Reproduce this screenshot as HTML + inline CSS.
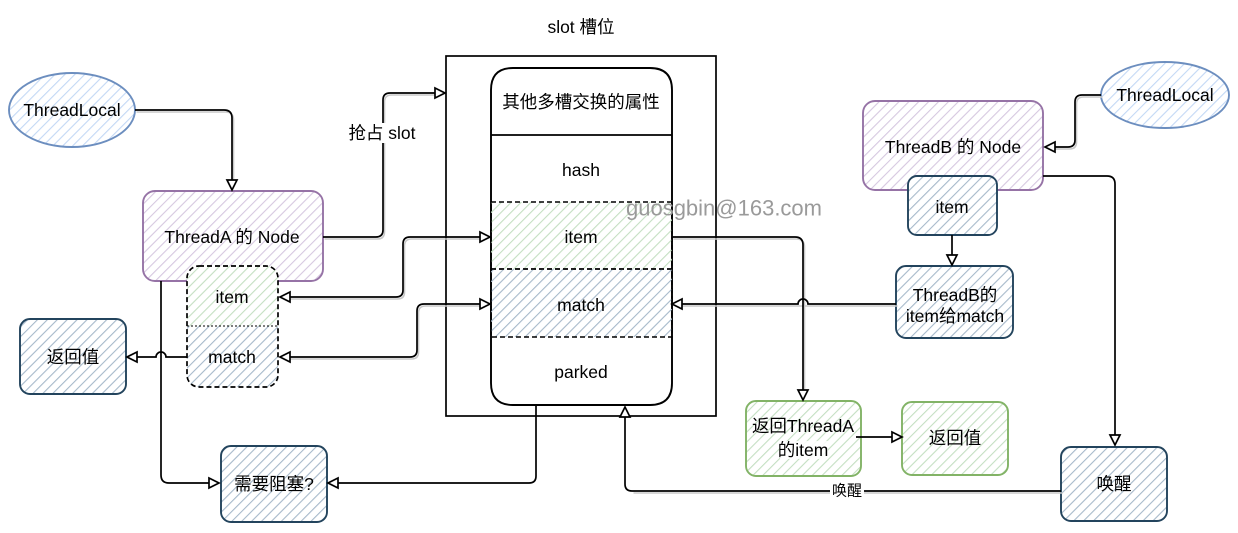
<!DOCTYPE html>
<html>
<head>
<meta charset="utf-8">
<style>
  html,body{margin:0;padding:0;background:#fff;}
  svg{display:block;}
  text{font-family:"Liberation Sans","Noto Sans CJK SC",sans-serif;font-size:17.5px;fill:#000;}
</style>
</head>
<body>
<svg width="1238" height="533" viewBox="0 0 1238 533" xmlns="http://www.w3.org/2000/svg">
  <defs>
    <pattern id="hb" width="7" height="7" patternUnits="userSpaceOnUse" patternTransform="rotate(45)">
      <line x1="0" y1="0" x2="0" y2="7" stroke="#a6b9ca" stroke-width="2.2"/>
    </pattern>
    <pattern id="hg" width="7" height="7" patternUnits="userSpaceOnUse" patternTransform="rotate(45)">
      <line x1="0" y1="0" x2="0" y2="7" stroke="#c4dfc2" stroke-width="2.2"/>
    </pattern>
    <pattern id="hp" width="7" height="7" patternUnits="userSpaceOnUse" patternTransform="rotate(45)">
      <line x1="0" y1="0" x2="0" y2="7" stroke="#d6c8e0" stroke-width="2.2"/>
    </pattern>
    <pattern id="hl" width="7" height="7" patternUnits="userSpaceOnUse" patternTransform="rotate(45)">
      <line x1="0" y1="0" x2="0" y2="7" stroke="#c3d8f5" stroke-width="2.2"/>
    </pattern>
  </defs>

  <!-- title -->
  <text x="581" y="27" text-anchor="middle" dominant-baseline="central">slot 槽位</text>

  <!-- slot outer rect -->
  <rect x="446" y="56" width="270" height="360" fill="none" stroke="#000" stroke-width="1.7"/>

  <!-- slot inner box -->
  <path d="M491,90 Q491,68 513,68 H650 Q672,68 672,90 V383 Q672,405 650,405 H513 Q491,405 491,383 Z" fill="#fff" stroke="#000" stroke-width="1.9"/>
  <line x1="491" y1="135" x2="672" y2="135" stroke="#000" stroke-width="1.7"/>
  <rect x="491" y="202" width="181" height="67" fill="url(#hg)" stroke="#000" stroke-width="1.5" stroke-dasharray="5,3"/>
  <rect x="491" y="269" width="181" height="68" fill="url(#hb)" stroke="#000" stroke-width="1.5" stroke-dasharray="5,3"/>
  <text x="581" y="102" text-anchor="middle" dominant-baseline="central">其他多槽交换的属性</text>
  <text x="581" y="170" text-anchor="middle" dominant-baseline="central">hash</text>
  <text x="581" y="237" text-anchor="middle" dominant-baseline="central">item</text>
  <text x="581" y="305" text-anchor="middle" dominant-baseline="central">match</text>
  <text x="581" y="372" text-anchor="middle" dominant-baseline="central">parked</text>

  <!-- watermark -->
  <text x="724" y="208" text-anchor="middle" dominant-baseline="central" style="font-size:22px;fill:#9a9a9a;">guosgbin@163.com</text>

  <!-- left ThreadLocal -->
  <ellipse cx="72" cy="110" rx="63" ry="37" fill="url(#hl)" stroke="#6c8ebf" stroke-width="1.9"/>
  <text x="72" y="110" text-anchor="middle" dominant-baseline="central">ThreadLocal</text>

  <!-- ThreadA Node -->
  <rect x="143" y="191" width="180" height="90" rx="12" fill="url(#hp)" stroke="#9673a6" stroke-width="1.9"/>
  <text x="232" y="237" text-anchor="middle" dominant-baseline="central">ThreadA 的 Node</text>

  <!-- ThreadA item/match -->
  <path d="M187,326 V278 Q187,266 199,266 H266 Q278,266 278,278 V326 Z" fill="#fff"/>
  <path d="M187,326 V278 Q187,266 199,266 H266 Q278,266 278,278 V326 Z" fill="url(#hg)"/>
  <path d="M187,326 V375 Q187,387 199,387 H266 Q278,387 278,375 V326 Z" fill="#fff"/>
  <path d="M187,326 V375 Q187,387 199,387 H266 Q278,387 278,375 V326 Z" fill="url(#hb)"/>
  <rect x="187" y="266" width="91" height="121" rx="12" fill="none" stroke="#000" stroke-width="1.7" stroke-dasharray="5,3"/>
  <line x1="187" y1="326" x2="278" y2="326" stroke="#000" stroke-width="1" stroke-dasharray="2,2"/>
  <text x="232" y="297" text-anchor="middle" dominant-baseline="central">item</text>
  <text x="232" y="357" text-anchor="middle" dominant-baseline="central">match</text>

  <!-- left 返回值 -->
  <rect x="20" y="319" width="106" height="75" rx="10" fill="url(#hb)" stroke="#23445d" stroke-width="1.9"/>
  <text x="73" y="357" text-anchor="middle" dominant-baseline="central">返回值</text>

  <!-- 需要阻塞? -->
  <rect x="221" y="446" width="106" height="76" rx="10" fill="url(#hb)" stroke="#23445d" stroke-width="1.9"/>
  <text x="274" y="484" text-anchor="middle" dominant-baseline="central">需要阻塞?</text>

  <!-- ThreadB Node -->
  <rect x="863" y="101" width="180" height="89" rx="12" fill="url(#hp)" stroke="#9673a6" stroke-width="1.9"/>
  <text x="953" y="147" text-anchor="middle" dominant-baseline="central">ThreadB 的 Node</text>
  <rect x="908" y="176" width="89" height="59" rx="9" fill="#fff"/>
  <rect x="908" y="176" width="89" height="59" rx="9" fill="url(#hb)" stroke="#23445d" stroke-width="1.9"/>
  <text x="952" y="207" text-anchor="middle" dominant-baseline="central">item</text>

  <!-- ThreadB的 item给match -->
  <rect x="896" y="266" width="117" height="72" rx="10" fill="url(#hb)" stroke="#23445d" stroke-width="1.9"/>
  <text x="955" y="295" text-anchor="middle" dominant-baseline="central">ThreadB的</text>
  <text x="955" y="316" text-anchor="middle" dominant-baseline="central">item给match</text>

  <!-- right ThreadLocal -->
  <ellipse cx="1165" cy="95" rx="64" ry="33" fill="url(#hl)" stroke="#6c8ebf" stroke-width="1.9"/>
  <text x="1165" y="95" text-anchor="middle" dominant-baseline="central">ThreadLocal</text>

  <!-- green boxes -->
  <rect x="746" y="401" width="115" height="75" rx="10" fill="url(#hg)" stroke="#82b366" stroke-width="1.9"/>
  <rect x="902" y="402" width="106" height="73" rx="10" fill="url(#hg)" stroke="#82b366" stroke-width="1.9"/>
  <text x="955" y="438" text-anchor="middle" dominant-baseline="central">返回值</text>

  <!-- 唤醒 box -->
  <rect x="1061" y="447" width="106" height="74" rx="10" fill="url(#hb)" stroke="#23445d" stroke-width="1.9"/>
  <text x="1114" y="484" text-anchor="middle" dominant-baseline="central">唤醒</text>

  <!-- connector shadows -->
  <g fill="none" stroke="#c8c8c8" stroke-width="1.6" transform="translate(1.5,2)">
    <path d="M135,110 H224 Q232,110 232,118 V182"/>
    <path d="M323,237 H376 Q383,237 383,230 V100 Q383,93 390,93 H437"/>
    <path d="M288,297 H396 Q403,297 403,290 V244 Q403,237 410,237 H482"/>
    <path d="M288,357 H410 Q417,357 417,350 V311 Q417,304 424,304 H482"/>
    <path d="M1061,491 H632"/>
    <path d="M672,237 H795 Q803,237 803,245 V392"/>
    <path d="M896,304 H680"/>
    <path d="M1101,95 H1082 Q1075,95 1075,102 V140 Q1075,147 1068,147 H1053"/>
  </g>

  <!-- connectors -->
  <g fill="none" stroke="#000" stroke-width="1.7">
    <path d="M135,110 H224 Q232,110 232,118 V182"/>
    <path d="M323,237 H376 Q383,237 383,230 V100 Q383,93 390,93 H437"/>
    <path d="M288,297 H396 Q403,297 403,290 V244 Q403,237 410,237 H482"/>
    <path d="M288,357 H410 Q417,357 417,350 V311 Q417,304 424,304 H482"/>
    <path d="M187,357 H166 A5,5 0 0 0 156,357 H135"/>
    <path d="M161,281 V475 Q161,483 169,483 H211"/>
    <path d="M536,405 V476 Q536,483 529,483 H336"/>
    <path d="M1061,491 H632 Q625,491 625,484 V415"/>
    <path d="M672,237 H795 Q803,237 803,245 V392"/>
    <path d="M896,304 H808 A5,5 0 0 0 798,304 H680"/>
    <path d="M856,437 H894"/>
    <path d="M952,235 V257"/>
    <path d="M1101,95 H1082 Q1075,95 1075,102 V140 Q1075,147 1068,147 H1053"/>
    <path d="M1043,176 H1107 Q1115,176 1115,184 V437"/>
  </g>

  <!-- arrowheads -->
  <g fill="#fff" stroke="#000" stroke-width="1.7" stroke-linejoin="miter">
    <path d="M227,180 L232,190 L237,180 Z"/>
    <path d="M798,390 L803,400 L808,390 Z"/>
    <path d="M947,255 L952,265 L957,255 Z"/>
    <path d="M1110,435 L1115,445 L1120,435 Z"/>
    <path d="M435,88 L445,93 L435,98 Z"/>
    <path d="M480,232 L490,237 L480,242 Z"/>
    <path d="M480,299 L490,304 L480,309 Z"/>
    <path d="M209,478 L219,483 L209,488 Z"/>
    <path d="M892,432 L902,437 L892,442 Z"/>
    <path d="M290,292 L280,297 L290,302 Z"/>
    <path d="M290,352 L280,357 L290,362 Z"/>
    <path d="M137,352 L127,357 L137,362 Z"/>
    <path d="M338,478 L328,483 L338,488 Z"/>
    <path d="M682,299 L672,304 L682,309 Z"/>
    <path d="M1055,142 L1045,147 L1055,152 Z"/>
    <path d="M620,417 L625,407 L630,417 Z"/>
  </g>

  <!-- connector labels -->
  <rect x="346" y="123" width="72" height="20" fill="#fff"/>
  <text x="382" y="133" text-anchor="middle" dominant-baseline="central">抢占 slot</text>
  <rect x="830" y="482" width="34" height="18" fill="#fff"/>
  <text x="847" y="491" text-anchor="middle" dominant-baseline="central" style="font-size:15px;">唤醒</text>

  <rect x="780" y="441" width="48" height="18" fill="#fff" opacity="0.85"/>
  <text x="803" y="426" text-anchor="middle" dominant-baseline="central">返回ThreadA</text>
  <text x="803" y="450" text-anchor="middle" dominant-baseline="central">的item</text>
</svg>
</body>
</html>
